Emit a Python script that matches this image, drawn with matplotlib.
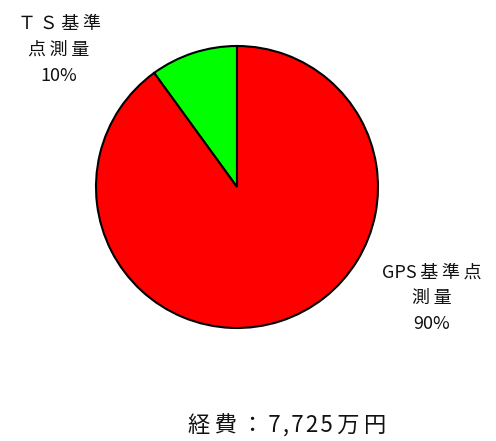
import matplotlib
matplotlib.use("Agg")
import matplotlib.pyplot as plt

plt.rcParams['font.family'] = ['Noto Sans CJK JP', 'DejaVu Sans']

categories = ["ＴＳ基準点測量", "GPS基準点測量"]
label_lines = [["ＴＳ基準", "点測量", "10%"], ["GPS基準点", "測量", "90%"]]
values = [10, 90]
colors = ["#00ff00", "#ff0000"]
total_text = "経費：7,725万円"

THIN = "\u2009"
HAIR = "\u200a"


def is_wide(c):
    return ord(c) >= 0x2E80


def spaced(s, half_sep=""):
    out = s[0]
    for a, b in zip(s, s[1:]):
        out += (THIN if (is_wide(a) or is_wide(b)) else half_sep) + b
    return out


W, H = 496, 441
fig = plt.figure(figsize=(W / 100, H / 100), dpi=100)
ax = fig.add_axes([0, 0, 1, 1])

ax.pie(values, colors=colors, startangle=90, counterclock=True,
       center=(237, H - 187), radius=141,
       wedgeprops=dict(edgecolor='black', linewidth=1.5))
ax.set_xlim(0, W)
ax.set_ylim(0, H)
ax.set_aspect('equal')
ax.axis('off')

label_pos = [(59, H - 50), (432, H - 298)]
for lines, (x, y) in zip(label_lines, label_pos):
    ax.text(x, y, "\n".join(spaced(l) for l in lines), ha='center', va='center',
            fontsize=13, linespacing=1.55, color='#111111')

ax.text(287, H - 426, spaced(total_text, HAIR), ha='center', va='center',
        fontsize=16, color='#111111')

fig.savefig("out.png", dpi=100)
